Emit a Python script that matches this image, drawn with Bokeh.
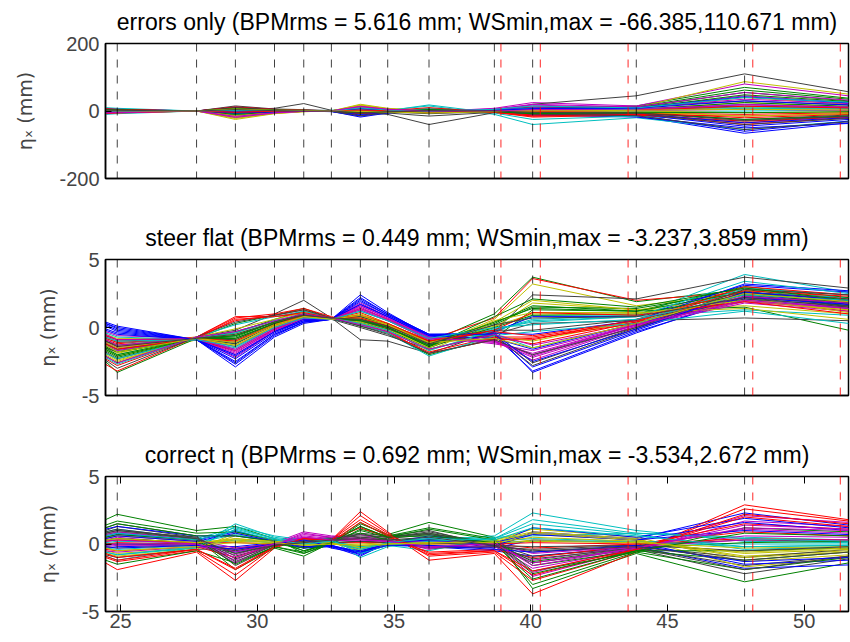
from bokeh.plotting import figure
from bokeh.models import (ColumnDataSource, Range1d, FixedTicker, Span, LinearAxis, Title)
from bokeh.layouts import column
from bokeh.embed import file_html
from bokeh.resources import INLINE

# Beamline positions (m) where each seed's dispersion is sampled
s_pos = [24.45, 24.88, 27.78, 29.20, 30.63, 31.70, 32.71, 33.77, 34.77, 36.28,
         38.67, 40.07, 43.86, 47.82, 51.62]

# BPM locations (black dashed) and wire scanners (red dashed)
bpm_pos = [24.88, 27.78, 29.20, 30.63, 31.70, 32.71, 33.77, 34.77, 36.28,
           38.67, 40.07, 43.86, 47.82]
ws_pos = [38.91, 40.35, 43.56, 48.12, 51.32]

titles = [
    "errors only (BPMrms = 5.616 mm; WSmin,max = -66.385,110.671 mm)",
    "steer flat (BPMrms = 0.449 mm; WSmin,max = -3.237,3.859 mm)",
    "correct \u03b7 (BPMrms = 0.692 mm; WSmin,max = -3.534,2.672 mm)",
]
y_limits = [(-200, 200), (-5, 5), (-5, 5)]
y_ticks = [[-200, 0, 200], [-5, 0, 5], [-5, 0, 5]]
x_ticks = [25, 30, 35, 40, 45, 50]

# eta_x per seed, errors only (mm)
eta_errors = [
    [-5, -3, 0, 5, 2, 0, -2, -15, -5, 5, 3, -5, -15, -66, -35],
    [3, 2, 0, -5, -2, 2, 1, 8, 3, -4, 5, 8, 15, 70, 38],
    [-2, -1, 0, 10, 4, 3, 0, -8, -3, 2, -2, -10, -10, -40, -20],
    [10, 8, 0, -8, -3, 1, 2, 5, 2, 15, -10, -40, -20, -55, -30],
    [0, 1, 0, 3, 1, 2, 1, 10, 4, -2, 8, 25, 15, 80, 45],
    [-8, -6, 0, -25, -8, -2, 0, 20, 8, 0, 2, 10, 10, 87, 50],
    [2, 0, 0, 3, 8, 22, 2, -5, -10, -40, -5, 20, 45, 110, 57],
    [4, 3, 0, 12, 5, 1, -1, -10, -4, 3, 2, -8, -12, -60, -30],
    [-3, -2, 0, -10, -4, 0, 1, 12, 5, -3, 4, 12, 12, 62, 35],
    [6, 4, 0, 8, 3, 2, 0, -5, -2, 6, -3, -15, -8, -35, -15],
    [-10, -8, 0, -5, -2, 1, 0, 4, 1, -5, 0, 3, 5, 20, 10],
    [2, 2, 0, 6, 2, 1, -1, 15, 6, -1, 6, 18, 8, 45, 25],
    [-6, -4, 0, -18, -6, -1, 0, 15, 6, -2, 0, 5, 6, 40, 20],
    [-1, -1, 0, 15, 6, 4, 1, -2, -6, -15, -4, 6, 12, 30, 18],
    [5, 3, 0, 8, 3, 0, -1, -18, -6, 4, 1, -12, -18, -50, -37],
    [-4, -3, 0, -12, -5, -1, 0, 10, 4, -2, 3, 10, 10, 55, 30],
    [3, 2, 0, 6, 2, 1, 0, -3, -1, 3, -1, -5, -5, -20, -10],
    [8, 6, 0, -6, -2, 0, 1, 3, 1, 18, -6, -25, -15, -30, -15],
    [-2, -1, 0, 2, 1, 1, 0, 8, 3, -1, 4, 15, 10, 35, 22],
    [-5, -4, 0, -20, -7, -1, 0, 18, 7, 1, 1, 6, 5, 25, 12],
    [1, 0, 0, 8, 3, 2, 0, -4, -3, -8, -2, 2, 5, 15, 8],
    [6, 5, 0, 10, 4, 1, -1, -12, -5, 2, 0, -6, -10, -45, -25],
    [-2, -1, 0, -7, -3, 0, 0, 6, 2, -2, 2, 6, 8, 48, 28],
    [4, 3, 0, 12, 5, 2, 0, -6, -3, 4, -4, -18, -12, -30, -18],
    [-6, -5, 0, -3, -1, 0, 0, 2, 0, 8, -2, -8, -2, 0, 2],
    [1, 0, 0, 4, 2, 1, 0, 12, 5, 0, 5, 20, 12, 55, 32],
    [-7, -5, 0, -22, -7, -2, 0, 16, 6, 0, 1, 4, 2, 10, 5],
    [0, 0, 0, 5, 2, 1, 0, 0, -2, -5, -2, -3, -5, -25, -12],
    [3, 2, 0, 6, 2, 0, -1, -8, -3, 2, 1, -3, -8, -35, -20],
    [-1, 0, 0, -4, -2, 0, 0, 5, 2, -1, 1, 2, 4, 25, 14],
    [5, 4, 0, 9, 3, 1, 0, -7, -3, 5, -3, -12, -6, -10, -5],
    [-4, -3, 0, -2, -1, 0, 0, 1, 0, 5, -1, -5, 0, 8, 6],
    [-1, -1, 0, 1, 0, 0, 0, 6, 2, -1, 3, 10, 6, 18, 12],
    [-3, -2, 0, -14, -5, -1, 0, 12, 5, 0, 0, 2, 0, -5, -3],
    [0, 0, 0, 3, 1, 0, 0, -2, -1, -3, -1, -8, -8, -40, -22],
    [2, 1, 0, -3, -1, 1, 0, 6, 2, -2, 3, 8, 8, 30, 18],
    [-4, -3, 0, 7, 3, 1, 0, -6, -2, 3, -1, -4, -6, -25, -15],
    [7, 5, 0, -4, -1, 0, 1, 2, 1, 10, -4, -15, -10, -15, -8],
    [-1, 0, 0, 2, 1, 0, 0, 4, 1, -1, 2, 8, 4, 12, 8],
    [-5, -4, 0, -16, -5, -1, 0, 13, 5, 0, 1, 5, 3, 20, 10],
    [1, 1, 0, 5, 2, 1, 0, -3, -2, -4, -1, -2, -3, -15, -8],
    [4, 3, 0, 10, 4, 1, -1, -14, -5, 3, 1, -9, -14, -55, -32],
    [-2, -2, 0, -6, -3, 0, 0, 7, 3, -2, 2, 7, 9, 42, 24],
    [3, 3, 0, 7, 2, 1, 0, -4, -2, 4, -2, -8, -4, -5, -2],
    [-8, -6, 0, -4, -1, 0, 0, 3, 1, -3, -1, -2, 2, 14, 9],
    [0, 1, 0, 2, 1, 1, 0, 9, 3, -1, 5, 15, 9, 40, 26],
    [-6, -5, 0, -19, -6, -1, 0, 14, 5, 0, 0, 3, 1, 5, 2],
    [1, 0, 0, 6, 2, 2, 0, -1, -3, -6, -2, 0, 2, 5, 3],
    [2, 2, 0, 4, 1, 0, 0, -5, -2, 1, 0, -4, -6, -28, -16],
]

# eta_x per seed after flat steering (mm)
eta_steer = [
    [0.4, 0.1, -0.9, -2.9, -0.7, 0.3, 0.6, 2.4, 1.1, -0.6, -0.4, -3.3, -0.4, 2.3, 1.6],
    [-1.2, -1.6, -0.8, -0.4, 0.6, 1.2, 0.7, 0.6, 0.1, -1.1, 1.0, 3.7, 1.9, 2.8, 1.9],
    [-0.9, -1.2, -0.7, 0.8, 0.8, 1.0, 0.7, 0.9, 0.2, -0.9, 0.7, 3.6, 2.0, 2.6, 1.7],
    [-1.6, -2.0, -0.8, -1.2, 0.3, 0.9, 0.6, 0.2, -0.3, -1.6, -0.4, 0.9, 0.9, 3.9, 2.6],
    [-0.3, -0.6, -0.8, -1.8, -0.2, 0.7, 0.6, 1.6, 0.7, -0.8, -0.9, -2.1, 0.2, 2.4, 1.9],
    [-1.9, -2.4, -0.9, -0.9, 0.2, 0.8, 0.6, 0.5, -0.1, -1.4, 0.6, 3.2, 1.6, 2.5, 1.4],
    [-2.1, -2.6, -0.7, -0.2, 1.0, 2.0, 0.7, -0.9, -1.0, -1.9, -0.3, 2.4, 2.1, 3.7, 2.9],
    [0.3, 0.0, -0.9, -2.7, -0.6, 0.4, 0.6, 2.2, 1.0, -0.5, -0.6, -3.2, -0.3, 2.1, 1.4],
    [-2.5, -3.3, -0.8, 0.3, 0.9, 1.4, 0.7, 0.1, -0.4, -2.0, -0.8, 1.3, 1.2, 1.5, -0.2],
    [-1.0, -1.4, -0.8, -1.4, 0.1, 0.8, 0.6, 1.1, 0.3, -1.0, -0.9, -0.9, 0.6, 2.9, 2.1],
    [-1.3, -1.7, -0.9, -0.6, 0.4, 0.9, 0.6, 0.4, 0.0, -1.3, -0.1, 0.4, 0.8, 1.3, 0.9],
    [-0.6, -0.9, -0.8, -2.2, -0.3, 0.6, 0.6, 1.8, 0.8, -0.7, -1.0, -2.4, 0.1, 2.2, 1.8],
    [-1.4, -1.9, -0.7, -1.0, 0.3, 1.0, 0.7, 0.7, 0.1, -1.2, 0.0, 1.8, 1.3, 1.6, 1.0],
    [-1.5, -1.8, -0.8, -0.3, 0.5, 0.9, 0.6, 0.0, -0.6, -1.6, -0.5, 0.3, 0.5, 0.7, 0.5],
    [0.2, -0.2, -0.9, -2.5, -0.5, 0.4, 0.6, 2.0, 0.9, -0.6, -0.5, -2.9, -0.2, 2.5, 1.7],
    [-1.7, -2.2, -0.8, -0.7, 0.4, 1.0, 0.7, 0.4, -0.2, -1.5, 0.2, 1.5, 1.4, 2.7, 1.5],
    [-2.3, -2.8, -0.7, 0.5, 0.9, 1.3, 0.7, 0.2, -0.4, -1.8, -0.7, -0.7, 0.4, 2.0, 1.2],
    [-0.8, -1.1, -0.9, -1.6, 0.0, 0.7, 0.6, 1.3, 0.5, -0.9, -0.2, 0.6, 0.9, 2.6, 2.2],
    [-1.1, -1.5, -0.8, -1.9, -0.1, 0.7, 0.6, 1.5, 0.6, -0.8, -1.1, -1.9, 0.2, 2.0, 1.5],
    [-0.5, -0.8, -0.8, -1.3, 0.1, 0.8, 0.6, 1.0, 0.3, -1.0, -0.6, -1.0, 0.5, 1.9, 1.3],
    [-1.8, -2.3, -0.8, -1.1, 0.2, 0.8, 0.6, 0.6, 0.0, -1.3, -0.4, -2.6, 0.0, 2.3, 1.8],
    [-0.2, -0.5, -0.9, -2.1, -0.3, 0.5, 0.6, 1.7, 0.8, -0.7, -0.3, 0.8, 0.8, 3.1, 2.6],
    [-1.0, -1.3, -0.8, -0.8, 0.3, 0.9, 0.7, 0.8, 0.2, -1.1, 0.3, 1.6, 1.2, 3.0, 2.2],
    [-2.7, -3.2, -0.7, 0.7, 1.0, 1.4, 0.8, 0.3, -0.3, -1.9, -0.9, -0.8, 0.3, 2.6, 2.0],
    [-0.4, -0.7, -0.9, -1.5, 0.0, 0.7, 0.6, 1.2, 0.5, -0.8, -0.5, -1.5, 0.3, 2.9, 2.4],
    [-1.3, -1.7, -0.8, -1.6, 0.0, 0.8, 0.6, 1.3, 0.5, -0.9, -1.0, -2.2, 0.1, 1.8, 1.2],
    [-2.0, -2.5, -0.7, -0.1, 0.6, 1.1, 0.7, 0.3, -0.2, -1.7, 0.4, 2.0, 1.3, 2.2, 1.1],
    [-0.7, -1.0, -0.8, -1.2, 0.2, 0.8, 0.6, 0.8, 0.1, -1.0, -0.6, -2.8, -0.1, 2.6, 2.1],
    [0.1, -0.3, -0.9, -2.3, -0.4, 0.5, 0.6, 1.9, 0.9, -0.5, -0.4, -0.5, 0.5, 3.2, 2.7],
    [-1.5, -2.0, -0.8, -0.6, 0.4, 1.0, 0.7, 0.5, 0.0, -1.4, 0.0, 0.9, 1.0, 2.4, 1.6],
    [-0.6, -0.9, -0.9, -1.7, -0.1, 0.7, 0.6, 1.4, 0.6, -0.8, -0.7, -1.2, 0.4, 3.0, 2.4],
    [-2.2, -2.7, -0.7, 0.2, 0.8, 1.2, 0.7, 0.2, -0.4, -2.1, -0.6, -0.3, 0.3, 1.2, 0.3],
    [-0.9, -1.3, -0.8, -2.0, -0.2, 0.6, 0.6, 1.6, 0.7, -0.7, -1.2, -1.7, 0.2, 1.9, 1.4],
    [-1.6, -2.1, -0.8, -0.5, 0.4, 0.9, 0.7, 0.4, -0.1, -1.5, 0.5, 1.1, 1.1, 1.4, 0.6],
    [-1.2, -1.6, -0.8, -0.9, 0.3, 0.8, 0.6, 0.5, -0.1, -1.2, -0.2, -0.2, 0.6, 2.1, 1.6],
    [-0.1, -0.4, -0.9, -2.0, -0.3, 0.6, 0.6, 1.7, 0.8, -0.6, -0.8, -1.6, 0.3, 2.2, 1.7],
    [-1.4, -1.8, -0.8, -0.8, 0.3, 0.9, 0.7, 0.6, 0.0, -1.3, 0.4, 1.4, 1.2, 2.6, 1.8],
    [-0.8, -1.1, -0.8, -1.0, 0.2, 0.9, 0.6, 0.9, 0.3, -1.0, -0.3, -0.6, 0.5, 2.7, 2.3],
    [-1.9, -2.3, -0.8, -0.4, 0.5, 1.0, 0.7, 0.3, -0.2, -1.7, -0.2, 0.5, 0.8, 3.4, 2.5],
    [-0.5, -0.9, -0.8, -1.7, -0.1, 0.7, 0.6, 1.4, 0.6, -0.8, -1.0, -2.0, 0.2, 2.3, 1.8],
    [-1.1, -1.5, -0.8, -1.1, 0.2, 0.8, 0.6, 0.7, 0.2, -1.1, 0.1, 1.0, 1.0, 2.0, 1.3],
    [-2.4, -3.0, -0.7, 0.4, 0.9, 1.3, 0.7, 0.1, -0.5, -1.9, -0.9, -2.0, 0.0, 2.8, 2.4],
    [0.3, -0.1, -0.9, -2.6, -0.5, 0.4, 0.6, 2.1, 1.0, -0.5, -0.5, -2.5, -0.1, 2.6, 2.0],
    [-1.6, -2.1, -0.8, -0.6, 0.4, 1.0, 0.7, 0.5, 0.0, -1.4, 0.8, 2.1, 1.5, 2.9, 2.0],
    [-1.2, -1.6, -0.8, 0.6, 0.8, 1.1, 0.7, 0.7, 0.1, -1.0, -0.2, 1.1, 0.9, 1.9, 1.0],
    [-0.7, -1.0, -0.9, -1.4, 0.0, 0.7, 0.6, 1.2, 0.5, -0.8, 0.0, 0.2, 0.6, 2.4, 2.0],
    [-2.1, -2.6, -0.7, -0.3, 0.5, 1.0, 0.7, 0.2, -0.3, -1.6, -0.5, -1.3, 0.2, 2.0, 1.4],
    [-1.3, -1.8, -0.8, -1.3, 0.1, 0.8, 0.6, 0.9, 0.2, -1.1, -0.8, -1.5, 0.3, 2.5, 1.9],
    [-1.0, -1.4, -0.8, -0.5, 0.4, 0.9, 0.7, 0.6, 0.1, -1.2, 0.2, 0.7, 0.8, 2.2, 1.5],
]

# eta_x per seed after dispersion correction (mm)
eta_correct = [
    [0.5, 0.7, 0.3, 1.0, 0.2, -0.3, -0.2, -0.9, 0.1, 0.4, -0.3, 0.9, 0.4, 2.3, 1.4],
    [1.8, 2.2, 1.0, 1.3, 0.4, -0.7, 0.0, 1.5, 0.7, 1.6, 0.5, -3.3, -0.7, -2.8, -1.4],
    [-1.4, -1.9, -0.6, -2.7, -0.3, 0.4, 0.3, 2.4, 0.9, -1.2, -0.7, -3.7, -0.6, 2.9, 1.8],
    [-0.9, -1.2, -0.2, 1.5, 0.5, 0.2, 0.3, -1.0, -0.2, 0.3, 0.6, 2.3, 1.0, 0.2, 0.1],
    [0.3, 0.5, 0.0, -1.2, 0.1, 0.9, 0.6, 0.5, 0.3, -0.4, 0.2, -2.1, -0.3, 2.1, 1.6],
    [-0.5, -0.7, -0.3, 0.6, 0.3, 0.1, 0.2, -0.4, 0.0, 0.2, 0.3, 1.1, 0.5, -1.3, -0.8],
    [1.2, 1.5, 0.6, -1.6, -0.2, 0.3, 0.5, 0.8, 0.6, 1.0, -0.2, -1.4, -0.4, -2.2, -1.1],
    [-0.3, -0.2, -0.1, -0.6, 0.0, 0.4, -0.3, -0.7, -0.1, -0.2, -0.5, -0.9, -0.2, -1.8, -1.55],
    [0.7, 0.9, 0.4, -1.9, -0.3, -0.9, 0.1, 1.6, 0.6, 0.7, 0.2, -3.0, -0.6, 1.2, 0.9],
    [-1.0, -1.3, -0.5, -2.3, -0.2, 0.5, 0.3, 2.1, 0.8, -0.9, -0.6, -2.7, -0.5, 2.6, 1.7],
    [0.9, 1.1, 0.4, 1.2, 0.4, -0.1, 0.2, -0.5, 0.1, 0.5, 0.4, 1.5, 0.7, -0.4, -0.2],
    [-0.2, -0.1, -0.1, -0.8, 0.0, 0.6, 0.4, 0.3, 0.2, -0.3, -0.1, -1.8, -0.4, 1.7, 1.3],
    [0.2, 0.3, 0.1, 0.4, 0.1, -0.2, 0.0, -0.2, 0.0, 0.1, 0.1, 0.7, 0.3, -0.9, -0.5],
    [1.0, 1.3, 0.5, -1.1, -0.1, 0.2, 0.4, 0.6, 0.5, 0.9, 0.0, -0.9, -0.3, -1.6, -0.9],
    [0.6, 0.8, 0.3, 0.9, 0.3, -0.2, -0.1, -0.8, 0.0, 0.3, 0.0, 1.2, 0.5, 1.9, 1.2],
    [-1.2, -1.5, -0.5, -1.4, -0.2, -0.6, 0.2, 1.3, 0.5, 0.8, 0.0, -2.6, -0.5, -1.2, -0.6],
    [0.0, 0.1, 0.0, -0.4, 0.1, 0.3, 0.2, 0.4, 0.2, 0.0, 0.0, -0.3, 0.0, 0.9, 0.6],
    [-0.6, -0.8, -0.3, 1.3, 0.6, 0.3, 0.4, -0.6, -0.1, -0.5, 0.5, 0.6, 0.8, 0.5, 0.3],
    [0.4, 0.6, 0.2, -1.4, 0.0, 0.8, 0.5, 0.7, 0.3, -0.2, 0.1, -2.4, -0.4, 0.6, 0.5],
    [-0.7, -0.9, -0.4, 0.8, 0.3, 0.0, 0.1, -0.5, -0.1, 0.0, 0.3, 0.9, 0.4, -1.7, -1.0],
    [0.8, 1.0, 0.5, -0.9, -0.1, 0.1, 0.3, 0.5, 0.4, 0.7, -0.1, -0.6, -0.2, -1.0, -0.4],
    [-0.1, 0.0, -0.1, -0.2, 0.1, 0.2, -0.2, -0.5, 0.0, -0.1, -0.3, 0.3, 0.1, -1.5, -1.2],
    [1.4, 1.7, 0.8, 0.9, 0.3, -0.5, 0.0, 1.1, 0.6, 1.2, 0.4, -1.6, -0.5, -0.5, -0.3],
    [-0.4, -0.5, -0.2, -1.0, 0.0, 0.4, 0.3, 1.2, 0.5, -0.6, -0.4, -1.0, -0.1, 1.5, 1.1],
    [0.1, 0.2, 0.1, 0.7, 0.2, 0.0, 0.1, -0.3, 0.0, 0.2, 0.2, 0.4, 0.2, 0.0, 0.0],
    [-0.5, -0.6, -0.2, -0.5, 0.0, 0.5, 0.3, 0.2, 0.1, -0.2, -0.2, -1.2, -0.2, 1.1, 0.8],
    [0.5, 0.6, 0.2, 0.2, 0.1, -0.1, 0.0, 0.0, 0.1, 0.3, 0.0, 0.3, 0.1, -0.6, -0.3],
    [-0.8, -1.0, -0.4, -0.3, 0.0, 0.1, 0.1, 0.2, 0.1, -0.3, -0.2, -0.4, -0.1, 0.3, 0.2],
    [1.1, 1.3, 0.6, 0.6, 0.2, -0.3, -0.1, -0.6, 0.1, 0.6, 0.1, 0.8, 0.3, 1.0, 0.7],
    [0.3, 0.4, 0.1, -0.7, 0.0, -0.3, 0.1, 0.8, 0.3, 0.3, 0.1, -1.3, -0.3, 0.1, 0.2],
    [0.2, 0.3, 0.1, 0.1, 0.0, 0.2, 0.1, 0.1, 0.1, 0.1, 0.0, 0.1, 0.0, 0.4, 0.3],
    [-0.3, -0.4, -0.1, 0.3, 0.1, 0.1, 0.2, -0.2, 0.0, -0.2, 0.1, 0.2, 0.2, -0.2, -0.1],
    [0.7, 0.9, 0.3, -0.3, 0.0, 0.4, 0.3, 0.4, 0.2, 0.2, 0.1, -0.7, -0.2, 0.3, 0.3],
    [-0.2, -0.3, -0.1, 0.1, 0.0, 0.0, 0.0, -0.1, 0.0, 0.0, 0.1, 0.2, 0.1, -0.3, -0.2],
    [0.0, 0.0, 0.0, -0.5, 0.0, 0.1, 0.1, 0.2, 0.1, 0.1, -0.1, -0.2, -0.1, -0.5, -0.2],
    [0.4, 0.6, 0.2, 0.8, 0.2, -0.2, -0.1, -0.7, 0.1, 0.3, -0.1, 0.7, 0.3, 1.6, 1.0],
    [1.2, 1.5, 0.6, 0.6, 0.2, -0.5, 0.1, 1.0, 0.5, 1.1, 0.3, -2.0, -0.6, -1.9, -1.0],
    [-0.9, -1.2, -0.4, -1.8, -0.2, 0.4, 0.2, 1.6, 0.6, -0.8, -0.5, -2.3, -0.4, 2.2, 1.5],
    [-0.6, -0.8, -0.2, 1.1, 0.4, 0.2, 0.3, -0.7, -0.1, 0.2, 0.4, 1.8, 0.8, 0.4, 0.2],
    [0.2, 0.3, 0.0, -1.0, 0.0, 0.7, 0.5, 0.4, 0.2, -0.3, 0.1, -1.6, -0.3, 1.4, 1.1],
    [-0.3, -0.5, -0.2, 0.4, 0.2, 0.1, 0.1, -0.3, 0.0, 0.1, 0.2, 0.8, 0.3, -1.0, -0.6],
    [0.9, 1.1, 0.4, -1.3, -0.1, 0.2, 0.4, 0.7, 0.5, 0.8, -0.1, -1.1, -0.3, -1.9, -0.9],
    [-0.2, -0.3, -0.1, -0.4, 0.0, 0.3, -0.2, -0.6, -0.1, -0.1, -0.4, -0.6, -0.1, -1.3, -1.0],
    [0.5, 0.7, 0.3, -1.5, -0.2, -0.7, 0.1, 1.3, 0.5, 0.6, 0.1, -2.2, -0.5, 0.8, 0.6],
    [-0.7, -1.0, -0.4, -1.9, -0.2, 0.4, 0.3, 1.8, 0.7, -0.7, -0.5, -2.0, -0.4, 2.0, 1.3],
    [0.6, 0.8, 0.3, 1.0, 0.3, 0.0, 0.2, -0.4, 0.1, 0.4, 0.3, 1.2, 0.6, -0.2, -0.1],
    [-0.1, 0.0, 0.0, -0.6, 0.0, 0.5, 0.3, 0.3, 0.2, -0.2, 0.0, -1.4, -0.3, 1.2, 1.0],
    [0.3, 0.4, 0.1, 0.3, 0.1, -0.1, 0.0, -0.1, 0.0, 0.1, 0.1, 0.5, 0.2, -0.7, -0.4],
    [0.8, 1.0, 0.4, -0.7, -0.1, 0.1, 0.3, 0.4, 0.3, 0.5, -0.1, -0.5, -0.2, -1.2, -0.6],
]

# classic colour cycle for the seeds
seed_colors = ["#0000ff", "#008000", "#ff0000", "#00bfbf", "#bf00bf", "#bfbf00", "#404040"]

FONT = "Liberation Sans"
X_RANGE = (24.45, 51.62)

# per-panel canvas geometry: (height, border_top, border_bottom, title_standoff)
geometry = [(216, 43, 38, 14), (216, 43, 37, 13), (210, 44, 31, 14)]


def make_panel(idx, series, show_x_labels):
    height, b_top, b_bottom, standoff = geometry[idx]
    p = figure(width=850, height=height, output_backend="svg", toolbar_location=None,
               x_range=Range1d(*X_RANGE), y_range=Range1d(*y_limits[idx]),
               min_border_left=105, min_border_right=2,
               min_border_top=b_top, min_border_bottom=b_bottom,
               background_fill_color="white", border_fill_color="white")
    p.title = Title(text=titles[idx], align="center", vertical_align="top",
                    text_font=FONT, text_font_size="23px", text_font_style="normal",
                    text_color="black", standoff=standoff)
    p.grid.visible = False
    p.outline_line_color = "black"
    p.outline_line_width = 1.5

    src = ColumnDataSource(dict(
        xs=[s_pos for _ in series],
        ys=series,
        color=[seed_colors[i % len(seed_colors)] for i in range(len(series))],
    ))
    p.multi_line("xs", "ys", line_color="color", line_width=1, source=src)

    for x in bpm_pos:
        p.add_layout(Span(location=x, dimension="height", line_color="black",
                          line_alpha=0.75, line_width=1, line_dash="8 8"))
    for x in ws_pos:
        p.add_layout(Span(location=x, dimension="height", line_color="red",
                          line_alpha=0.85, line_width=1, line_dash="8 8"))

    ya = p.yaxis[0]
    ya.ticker = FixedTicker(ticks=y_ticks[idx])
    ya.major_label_overrides = {t: str(t) for t in y_ticks[idx]}
    ya.axis_label = "\u03b7\u2093 (mm)"
    ya.axis_label_text_font = "DejaVu Sans"
    ya.axis_label_text_font_size = "19px"
    ya.axis_label_text_font_style = "normal"
    ya.axis_label_standoff = 20
    ya.major_label_text_font = FONT
    ya.major_label_text_font_size = "20px"
    ya.major_label_standoff = 6
    ya.major_tick_in = 6
    ya.major_tick_out = 0
    ya.minor_tick_line_color = None
    ya.axis_line_width = 1.5

    xa = p.xaxis[0]
    xa.minor_tick_line_color = None
    xa.axis_line_width = 1.5
    if show_x_labels:
        xa.ticker = FixedTicker(ticks=x_ticks)
        xa.major_label_text_font = FONT
        xa.major_label_text_font_size = "20px"
        xa.major_label_standoff = 2
        xa.major_tick_in = 7
        xa.major_tick_out = 0
        top = LinearAxis(ticker=FixedTicker(ticks=x_ticks), major_label_text_color=None,
                         major_tick_in=7, major_tick_out=0, minor_tick_line_color=None,
                         axis_line_color=None, major_label_standoff=0)
        p.add_layout(top, "above")
    else:
        xa.ticker = FixedTicker(ticks=[])
        xa.major_tick_line_color = None
    return p


p1 = make_panel(0, eta_errors, False)
p2 = make_panel(1, eta_steer, False)
p3 = make_panel(2, eta_correct, True)

layout = column(p1, p2, p3, spacing=0)

open("out.html", "w").write(file_html(layout, INLINE))
